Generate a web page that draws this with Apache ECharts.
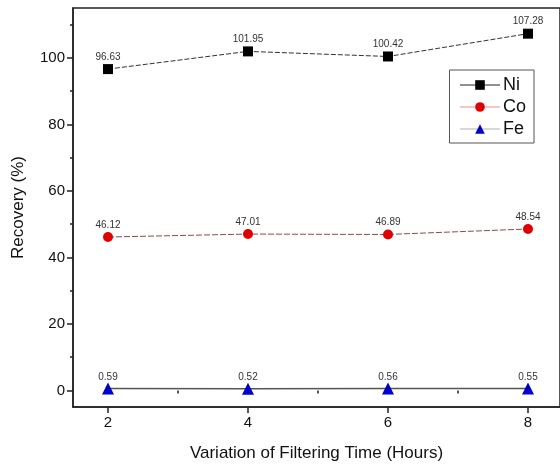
<!DOCTYPE html>
<html>
<head>
<meta charset="utf-8">
<script src="https://cdn.jsdelivr.net/npm/echarts@6/dist/echarts.min.js"></script>
<style>
  html, body { margin: 0; padding: 0; background: #fff; }
  #chart { width: 560px; height: 467px; }
</style>
</head>
<body>
<div id="chart"></div>
<script>
// filtering time (hours)
var hours = [2, 4, 6, 8];
var niValues = [96.63, 101.95, 100.42, 107.28];
var coValues = [46.12, 47.01, 46.89, 48.54];
var feValues = [0.59, 0.52, 0.56, 0.55];
var yMajor = [0, 20, 40, 60, 80, 100];
var yMinor = [10, 30, 50, 70, 90, 110];
var xMinor = [3, 5, 7];

function pairs(vals) {
    return hours.map(function (h, i) { return [h, vals[i]]; });
}

var chart = echarts.init(document.getElementById('chart'));

var font = 'Arial, "Liberation Sans", sans-serif';

function labelStyle(dist) {
    return {
        show: true,
        position: 'top',
        distance: dist,
        fontSize: 10,
        color: '#333',
        fontFamily: font,
        formatter: function (p) { return p.value[1].toFixed(2); }
    };
}

var option = {
    animation: false,
    backgroundColor: '#fff',
    grid: {
        left: 73, right: 0, top: 8, bottom: 60,
        show: true, borderColor: '#222', borderWidth: 1.5
    },
    legend: {
        right: 26, top: 70,
        orient: 'vertical',
        itemWidth: 40, itemHeight: 12, itemGap: 4,
        padding: [6, 8, 5, 10],
        borderColor: '#555', borderWidth: 1,
        backgroundColor: '#fff',
        textStyle: { fontSize: 18, color: '#111', fontFamily: font, padding: [0, 0, 0, -2] },
        data: [
            { name: 'Ni', itemStyle: { color: '#000' }, lineStyle: { color: '#222', width: 1, type: 'solid' } },
            { name: 'Co', itemStyle: { color: '#e00000' }, lineStyle: { color: '#e89090', width: 1, type: 'solid' } },
            { name: 'Fe', itemStyle: { color: '#0000cc' }, lineStyle: { color: '#a8aec0', width: 1, type: 'solid' } }
        ]
    },
    xAxis: [{
        type: 'value',
        min: 1.5, max: 8.457,
        name: 'Variation of Filtering Time (Hours)',
        nameLocation: 'middle', nameGap: 38,
        nameTextStyle: { fontSize: 17, color: '#111', fontFamily: font },
        splitLine: { show: false },
        axisLine: { onZero: false, lineStyle: { color: '#222', width: 1.5 } },
        axisTick: { customValues: hours, length: 6, lineStyle: { color: '#222', width: 1.5 } },
        axisLabel: { customValues: hours, fontSize: 15, color: '#111', fontFamily: font, margin: 8 }
    }, {
        type: 'value', position: 'bottom',
        min: 1.5, max: 8.457,
        splitLine: { show: false },
        axisLine: { show: false },
        axisTick: { customValues: xMinor, length: 3, lineStyle: { color: '#222', width: 1.5 } },
        axisLabel: { show: false }
    }],
    yAxis: [{
        type: 'value',
        min: -5, max: 115,
        name: 'Recovery (%)',
        nameLocation: 'middle', nameGap: 46,
        nameTextStyle: { fontSize: 17, color: '#111', fontFamily: font },
        splitLine: { show: false },
        axisLine: { show: true, onZero: false, lineStyle: { color: '#222', width: 1.5 } },
        axisTick: { customValues: yMajor, length: 6, lineStyle: { color: '#222', width: 1.5 } },
        axisLabel: { customValues: yMajor, fontSize: 15, color: '#111', fontFamily: font, margin: 8 }
    }, {
        type: 'value', position: 'left',
        min: -5, max: 115,
        splitLine: { show: false },
        axisLine: { show: false },
        axisTick: { customValues: yMinor, length: 3, lineStyle: { color: '#222', width: 1.5 } },
        axisLabel: { show: false }
    }],
    series: [
        {
            name: 'Ni', type: 'line', data: pairs(niValues),
            symbol: 'rect', symbolSize: 10,
            itemStyle: { color: '#000' },
            lineStyle: { color: '#333', width: 1, type: [5, 2] },
            label: labelStyle(2)
        },
        {
            name: 'Co', type: 'line', data: pairs(coValues),
            symbol: 'circle', symbolSize: 10,
            itemStyle: { color: '#e00000' },
            lineStyle: { color: '#8a4a4a', width: 1, type: [6, 2] },
            label: labelStyle(2)
        },
        {
            name: 'Fe', type: 'line', data: pairs(feValues),
            symbol: 'triangle', symbolSize: 12,
            itemStyle: { color: '#0000cc' },
            lineStyle: { color: '#555', width: 1.5 },
            label: labelStyle(0)
        }
    ]
};

chart.setOption(option);
</script>
</body>
</html>
